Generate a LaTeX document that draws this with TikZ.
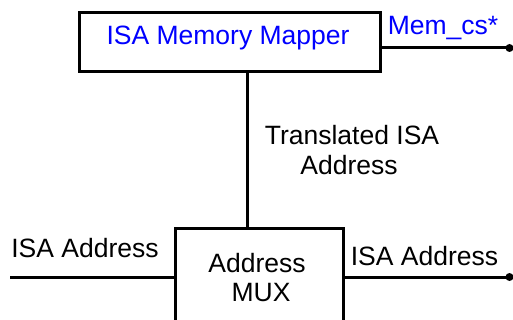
\documentclass[tikz,border=0pt]{standalone}
\usepackage{fontspec}
\setmainfont{Liberation Sans}
\begin{document}
\begin{tikzpicture}[x=1pt,y=-1pt,
  box/.style={draw,line width=3pt,rectangle,inner sep=0pt},
  wire/.style={line width=3pt},
  lbl/.style={inner sep=0pt,anchor=base,font=\fontsize{26.5}{29}\selectfont},
  blbl/.style={lbl,text=blue},
  dot/.style={circle,fill=black,inner sep=0pt,minimum size=8pt}]
\useasboundingbox (0,0) rectangle (513,320);
\clip (0,0) rectangle (513,320);
\node[box,minimum width=301pt,minimum height=59pt] (mapper) at (229.5,42.5) {};
\node[blbl] (mapperlbl) at (228,45) {ISA Memory Mapper};
\node[box,minimum width=168pt,minimum height=110pt] (mux) at (259,283) {};
\node[lbl] (muxlbl1) at (257,272) {Address};
\node[lbl] (muxlbl2) at (261,301) {MUX};
\coordinate (vx) at (247,0);
\draw[wire] (mapper.south -| vx) -- (mux.north -| vx);
\node[lbl] (tr1) at (352,145) {Translated ISA};
\node[lbl] (tr2) at (349,175) {Address};
\coordinate (cs) at (509.5,48);
\draw[wire] (cs -| mapper.east) -- (cs);
\node[dot] (csdot) at (cs) {};
\node[blbl] (cslbl) at (443,35) {Mem\_cs*};
\coordinate (inL) at (10,277);
\draw[wire] (inL) -- (inL -| mux.west);
\node[lbl] (inlbl) at (85,257) {ISA Address};
\coordinate (outR) at (509.5,277);
\draw[wire] (outR -| mux.east) -- (outR);
\node[dot] (outdot) at (outR) {};
\node[lbl] (outlbl) at (424.5,265) {ISA Address};
\end{tikzpicture}
\end{document}
